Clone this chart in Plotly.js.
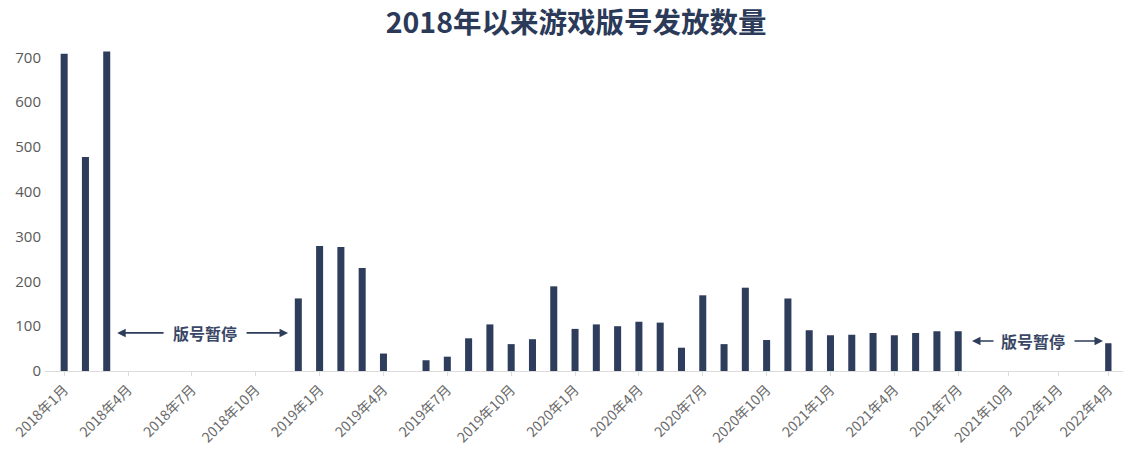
<!DOCTYPE html>
<html>
<head>
<meta charset="utf-8">
<script src="https://cdn.plot.ly/plotly-3.0.1.min.js"></script>
<style>html,body{margin:0;padding:0;background:#fff;}#chart{width:1123px;height:460px;}</style>
</head>
<body>
<div id="chart"></div>
<script>
// Months Jan 2018 .. Apr 2022
const years = [2018, 2019, 2020, 2021, 2022];
const months = [];
years.forEach(y => { for (let m = 1; m <= 12; m++) { if (y === 2022 && m > 4) break; months.push(y + '年' + m + '月'); } });

// Approvals per month (0 = suspension / no batch)
const approvals2018 = [708, 478, 713, 0, 0, 0, 0, 0, 0, 0, 0, 162];
const approvals2019 = [279, 277, 230, 39, 0, 24, 32, 73, 104, 60, 71, 189];
const approvals2020 = [94, 104, 100, 110, 108, 52, 169, 60, 186, 69, 162, 91];
const approvals2021 = [80, 81, 85, 80, 85, 89, 89, 0, 0, 0, 0, 0];
const approvals2022 = [0, 0, 0, 62];
const approvals = [].concat(approvals2018, approvals2019, approvals2020, approvals2021, approvals2022);

// The source axis is drawn at a tighter month spacing after 2021年7月
const splitMonth = '2021年7月';
const splitIdx = months.indexOf(splitMonth);

const idx = months.map((m, i) => i);
const idxA = idx.filter(i => i <= splitIdx);
const idxB = idx.filter(i => i > splitIdx);
const ticksA = idxA.filter(i => i % 3 === 0);
const ticksB = idxB.filter(i => i % 3 === 0);

const navy = '#2e3d5c';
const pauseLabel = '版号暂停';
const cjk = 'Noto Sans CJK SC';

const traceA = { type: 'bar', x: idxA, y: idxA.map(i => approvals[i]), marker: { color: navy }, width: 0.33, xaxis: 'x', yaxis: 'y' };
const traceB = { type: 'bar', x: idxB, y: idxB.map(i => approvals[i]), marker: { color: navy }, width: 0.38, xaxis: 'x2', yaxis: 'y' };

function arrow(ax, xHead, xTail, y) {
  return { x: xHead, y: y, ax: xTail, ay: y, xref: ax, yref: 'y', axref: ax, ayref: 'y',
    text: '', showarrow: true, arrowhead: 2, arrowsize: 1, arrowwidth: 1.7, arrowcolor: navy };
}
function label(ax, x, y) {
  return { x: x, y: y, xref: ax, yref: 'y', text: pauseLabel, showarrow: false,
    font: { family: cjk, size: 16, color: '#3a4766', weight: 700 } };
}

const tickFont = { family: cjk, size: 14, color: '#6a6a6a' };
const baseX = {
  tickmode: 'array', tickangle: -45, tickfont: tickFont,
  showgrid: false, zeroline: false,
  showline: true, linecolor: '#dcdcdc', linewidth: 1,
  ticks: 'outside', ticklen: 4, tickcolor: '#dcdcdc', anchor: 'y'
};

const layout = {
  width: 1123, height: 460,
  margin: { l: 45, r: 0, t: 44, b: 89 },
  paper_bgcolor: '#fff', plot_bgcolor: '#fff',
  title: { text: '2018年以来游戏版号发放数量', x: 0.513, xref: 'container', xanchor: 'center', y: 0.95, yanchor: 'middle',
    font: { family: cjk, size: 28.5, color: '#2b3a58', weight: 700 } },
  showlegend: false,
  xaxis: Object.assign({}, baseX, { domain: [0, 0.857], range: [-0.9, 42.5],
    tickvals: ticksA, ticktext: ticksA.map(i => months[i]) }),
  xaxis2: Object.assign({}, baseX, { domain: [0.857, 1], range: [42.63, 51.88],
    tickvals: ticksB, ticktext: ticksB.map(i => months[i]) }),
  yaxis: {
    range: [0, 730],
    tickmode: 'array', tickvals: [0, 100, 200, 300, 400, 500, 600, 700],
    tickfont: { family: 'Open Sans', size: 15, color: '#595959' },
    showgrid: false, zeroline: false, showline: false,
    ticks: '', ticklabelstandoff: 3
  },
  annotations: [
    arrow('x', 2.49, 4.74, 85), arrow('x', 10.52, 8.5, 85), label('x', 6.62, 85),
    arrow('x2', 42.82, 44.2, 67), arrow('x2', 50.68, 48.88, 67), label('x2', 46.48, 67)
  ]
};

Plotly.newPlot('chart', [traceA, traceB], layout, { displayModeBar: false, staticPlot: true });
</script>
</body>
</html>
